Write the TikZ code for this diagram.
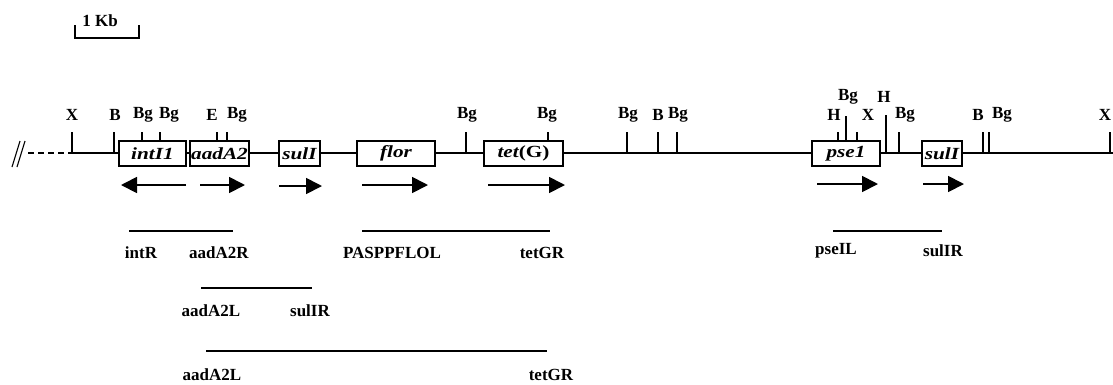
\documentclass[tikz,border=0pt]{standalone}
\usepackage{fontspec}
\setmainfont{Liberation Serif}
\usetikzlibrary{arrows.meta}
\tikzset{
  site/.style={font=\fontsize{17}{17}\selectfont\bfseries, inner sep=0pt},
  gene/.style={draw, fill=white, line width=1.2pt, minimum height=25pt, inner sep=0pt,
    font=\fontsize{17}{17}\selectfont\bfseries\itshape},
  cut/.style={line width=1.1pt},
  dirarrow/.style={line width=1.8pt, -{Triangle[length=16pt,width=16pt]}},
  amp/.style={line width=1.2pt},
  primer/.style={font=\fontsize{17}{17}\selectfont\bfseries, inner sep=0pt},
  backbone/.style={line width=1.2pt}
}
\newcommand{\wid}[1]{\scalebox{1.25}[1]{#1}}
\begin{document}
\begin{tikzpicture}[x=1pt,y=-1pt]
\clip (0,0) rectangle (1113,384);
\fill[white] (0,0) rectangle (1113,384);
% scale bar
\coordinate (sbl) at (75,25);
\coordinate (sbr) at (139,25);
\draw[line width=1.2pt] (sbl) -- (75,38) -- (139,38) -- (sbr);
\node[site] (kb) at (100,21) {1 Kb};
% backbone
\draw[line width=1.1pt] (12,167) -- (20,141) (17,167) -- (25,141);
\coordinate (bstart) at (28,153);
\coordinate (bx) at (72,153);
\coordinate (bend) at (1113,153);
\draw[backbone, dashed, dash pattern=on 6pt off 4pt] (bstart) -- (bx);
\draw[backbone] (bx) -- (bend);
% gene boxes
\node[gene, minimum width=67pt] (intI1) at (152.5,153.5) {\wid{intI1}};
\node[gene, minimum width=59pt] (aadA2) at (219.5,153.5) {\wid{aadA2}};
\node[gene, minimum width=41pt] (sulI) at (299.5,153.5) {\wid{sulI}};
\node[gene, minimum width=78pt] (flor) at (396,153.5) {\wid{flor}};
\node[gene, minimum width=79pt] (tetG) at (523.5,153.5) {\wid{tet\upshape(G)}};
\node[gene, minimum width=68pt] (pse1) at (846,153.5) {\wid{pse1}};
\node[gene, minimum width=40pt] (sulIb) at (942,153.5) {\wid{sulI}};
% restriction sites
\foreach \x/\yb/\yt in {72/153/132, 114/153/132, 142/141/132, 160/141/132, 217/141/132, 227/141/132,
  466/153/132, 548/141/132, 627/153/132, 658/153/132, 677/153/132,
  838/141/132, 846/141/116, 857/141/132, 886/153/115, 899/153/132,
  983/153/132, 989/153/132, 1110/153/132}
  \draw[cut] (\x,\yb) -- (\x,\yt);
\foreach \x/\y/\t in {72/115/X, 115/115/B, 143/115/Bg, 169/115/Bg, 212/115/E, 237/115/Bg,
  467/115/Bg, 547/115/Bg, 628/115/Bg, 658/115/B, 678/115/Bg,
  834/115/H, 848/97/Bg, 868/115/X, 884/97/H, 905/115/Bg,
  978/115/B, 1002/115/Bg, 1105/115/X}
  \node[site] at (\x,\y) {\t};
% direction arrows
\draw[dirarrow] (186,185) -- (121,185);
\draw[dirarrow] (200,185) -- (245,185);
\draw[dirarrow] (279,186) -- (322,186);
\draw[dirarrow] (362,185) -- (428,185);
\draw[dirarrow] (488,185) -- (565,185);
\draw[dirarrow] (817,184) -- (878,184);
\draw[dirarrow] (923,184) -- (964,184);
% amplicons
\node[primer] (intR) at (141,253) {intR};
\node[primer] (aadA2R) at (219,253) {aadA2R};
\draw[amp] (129,231) -- (233,231);
\node[primer] (PASPPFLOL) at (392,253) {PASPPFLOL};
\node[primer] (tetGR) at (542,253) {tetGR};
\draw[amp] (362,231) -- (550,231);
\node[primer] (pseIL) at (836,251) {pseIL};
\node[primer] (sulIR) at (943,251) {sulIR};
\draw[amp] (833,231) -- (942,231);
\node[primer] (aadA2L) at (211,311) {aadA2L};
\node[primer] (sulIRb) at (310,311) {sulIR};
\draw[amp] (201,288) -- (312,288);
\node[primer] (aadA2Lb) at (212,375) {aadA2L};
\node[primer] (tetGRb) at (551,375) {tetGR};
\draw[amp] (206,351) -- (547,351);
\end{tikzpicture}
\end{document}
